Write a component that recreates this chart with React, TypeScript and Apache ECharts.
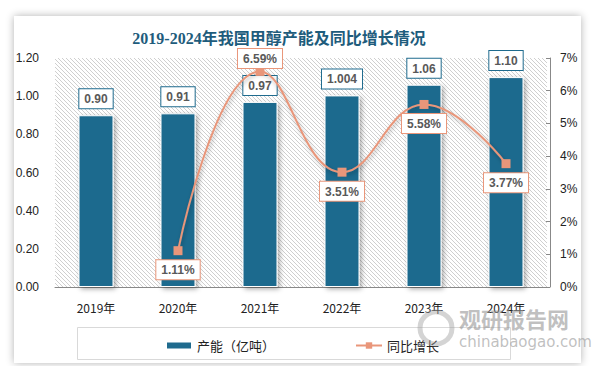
import React, { useEffect, useRef } from "react";
import * as echarts from "echarts";

const categories = ["2019年", "2020年", "2021年", "2022年", "2023年", "2024年"];
const capacity = [0.9, 0.91, 0.97, 1.004, 1.06, 1.1];
const growth: (number | null)[] = [null, 1.11, 6.59, 3.51, 5.58, 3.77];
const growthLabelPos = ["bottom", "bottom", "top", "bottom", "bottom", "bottom"];
const leftTicks = { min: 0, max: 1.2, interval: 0.2 };
const rightTicks = { min: 0, max: 7, interval: 1 };

const BAR = "#1F6B8E";
const LINE = "#E9967A";
const LABEL_FONT = "'Liberation Sans', 'Noto Sans CJK SC', sans-serif";
const CJK_FONT = "'Noto Sans CJK SC', 'Liberation Sans', sans-serif";

function fmtCap(v: number) {
  const s = String(v);
  const d = (s.split(".")[1] || "").length;
  return d < 2 ? v.toFixed(2) : s;
}

function makeHatch() {
  const c = document.createElement("canvas");
  c.width = 4;
  c.height = 4;
  const ctx = c.getContext("2d")!;
  ctx.fillStyle = "#ffffff";
  ctx.fillRect(0, 0, 4, 4);
  ctx.fillStyle = "#cfcfcf";
  for (let i = 0; i < 4; i++) ctx.fillRect(i, i, 1, 1);
  return c;
}

export default function App() {
  const ref = useRef<HTMLDivElement>(null);
  useEffect(() => {
    const chart = echarts.init(ref.current!, null, { renderer: "svg" });
    const hatch = makeHatch();
    chart.setOption({
      animation: false,
      backgroundColor: "transparent",
      title: {
        text: "2019-2024年我国甲醇产能及同比增长情况",
        left: 274,
        top: 25,
        textAlign: "center",
        textStyle: {
          fontFamily: "'Liberation Serif', 'Noto Sans CJK SC', serif",
          fontSize: 16,
          fontWeight: "bold",
          color: "#1E5C7C",
        },
      },
      grid: {
        left: 55,
        right: 47,
        top: 58,
        bottom: 79,
        show: true,
        borderWidth: 0,
        backgroundColor: { image: hatch, repeat: "repeat" },
      },
      legend: {
        left: 160,
        top: 334,
        itemGap: 80,
        itemWidth: 26,
        itemHeight: 8,
        textStyle: { fontFamily: CJK_FONT, fontSize: 13, color: "#222" },
        data: [
          { name: "产能（亿吨）", icon: "rect" },
          { name: "同比增长" },
        ],
      },
      xAxis: {
        type: "category",
        data: categories,
        axisLine: { lineStyle: { color: "#888", width: 1 } },
        axisTick: { show: false },
        axisLabel: {
          margin: 14,
          fontFamily: CJK_FONT,
          fontSize: 12,
          color: "#222",
        },
      },
      yAxis: [
        {
          type: "value",
          ...leftTicks,
          splitLine: { show: false },
          axisLine: { show: false },
          axisTick: { show: false },
          axisLabel: {
            margin: 16,
            formatter: (v: number) => v.toFixed(2),
            fontFamily: LABEL_FONT,
            fontSize: 12,
            color: "#222",
          },
        },
        {
          type: "value",
          ...rightTicks,
          position: "right",
          offset: 3,
          splitLine: { show: false },
          axisLine: { show: true, lineStyle: { color: "#888" } },
          axisTick: { show: true, inside: true, length: 4, lineStyle: { color: "#888" } },
          axisLabel: {
            margin: 10,
            formatter: (v: number) => v + "%",
            fontFamily: LABEL_FONT,
            fontSize: 12,
            color: "#222",
          },
        },
      ],
      graphic: [
        {
          type: "rect",
          shape: { x: 77.5, y: 327.5, width: 433, height: 32 },
          style: { fill: "rgba(0,0,0,0)", stroke: "#d9d9d9", lineWidth: 1 },
          z: -1,
        },
        {
          type: "circle",
          shape: { cx: 436, cy: 328, r: 16 },
          style: { fill: "rgba(0,0,0,0)", stroke: "rgba(160,160,160,0.45)", lineWidth: 5 },
          z: 10,
        },
        {
          type: "text",
          x: 459,
          y: 307,
          style: {
            text: "观研报告网",
            font: "bold 22px 'Noto Sans CJK SC'",
            fill: "rgba(150,150,150,0.6)",
          },
          z: 10,
        },
        {
          type: "text",
          x: 459,
          y: 334,
          style: {
            text: "chinabaogao.com",
            font: "15px 'DejaVu Sans'",
            fill: "rgba(150,150,150,0.6)",
          },
          z: 10,
        },
      ],
      series: [
        {
          name: "产能（亿吨）",
          type: "bar",
          data: capacity,
          barWidth: 35,
          itemStyle: {
            color: BAR,
            borderColor: "#fff",
            borderWidth: 1,
            shadowBlur: 5,
            shadowColor: "rgba(0,0,0,0.35)",
            shadowOffsetX: 2,
            shadowOffsetY: 2,
          },
          label: {
            show: true,
            position: "top",
            distance: 7,
            formatter: (p: any) => fmtCap(p.value),
            fontFamily: LABEL_FONT,
            fontSize: 12,
            fontWeight: "bold",
            color: "#595959",
            backgroundColor: "#fff",
            borderColor: BAR,
            borderWidth: 1,
            padding: [4, 5, 3, 5],
          },
        },
        {
          name: "同比增长",
          type: "line",
          yAxisIndex: 1,
          data: growth.map((v, i) => ({
            value: v,
            label: {
              position: growthLabelPos[i],
              distance: growthLabelPos[i] === "top" ? -1 : 5,
            },
          })),
          smooth: 0.45,
          symbol: "rect",
          symbolSize: 9,
          lineStyle: {
            color: LINE,
            width: 2,
            shadowBlur: 4,
            shadowColor: "rgba(0,0,0,0.3)",
            shadowOffsetX: 1,
            shadowOffsetY: 2,
          },
          itemStyle: { color: LINE },
          label: {
            show: true,
            formatter: (p: any) => p.value.toFixed(2) + "%",
            fontFamily: LABEL_FONT,
            fontSize: 12,
            fontWeight: "bold",
            color: "#595959",
            backgroundColor: "#fff",
            borderColor: LINE,
            borderWidth: 1,
            padding: [4, 5, 3, 5],
          },
          z: 5,
        },
      ],
    });
    return () => chart.dispose();
  }, []);

  return (
    <div style={{ position: "fixed", left: 0, top: 0, width: 594, height: 366, background: "#fff", overflow: "hidden" }}>
      <div
        style={{
          position: "absolute",
          left: 14,
          top: 16,
          width: 567,
          height: 347,
          background: "#fff",
          boxShadow: "0 0 8px rgba(0,0,0,0.3)",
        }}
      />
      <div ref={ref} style={{ position: "absolute", left: 0, top: 0, width: 594, height: 366 }} />
    </div>
  );
}
